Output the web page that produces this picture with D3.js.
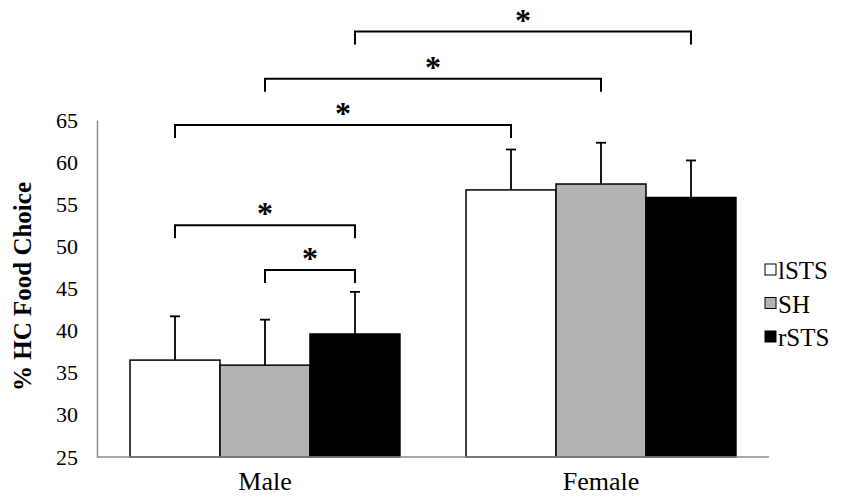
<!DOCTYPE html>
<html lang="en">
<head>
  <meta charset="UTF-8">
  <title>% HC Food Choice</title>
  <script src="https://d3js.org/d3.v7.min.js"></script>
  <style>
    body { margin: 0; background: #fff; }
    text { font-family: "Liberation Serif", "Times New Roman", serif; fill: #000; }
  </style>
</head>
<body>
  <svg id="chart" width="850" height="503"></svg>

  <script>
    // Data
    const groups = ["Male", "Female"];
    const series = ["lSTS", "SH", "rSTS"];
    const colors = ["#ffffff", "#b3b3b3", "#000000"];
    // means per series, in group order [Male, Female]
    const lSTS = [36.5, 56.7];
    const SH = [35.9, 57.4];
    const rSTS = [39.6, 55.8];
    const lSTSerr = [5.2, 4.8];
    const SHerr = [5.4, 4.9];
    const rSTSerr = [5.0, 4.4];
    const yTicks = [25, 30, 35, 40, 45, 50, 55, 60, 65];

    // significance brackets: [group index, series index] -> [group index, series index] at level
    const sigFrom = [[0, 0], [0, 1], [0, 0], [0, 1], [0, 2]];
    const sigTo = [[0, 2], [0, 2], [1, 0], [1, 1], [1, 2]];
    const sigLevel = [52.5, 47.2, 64.4, 69.9, 75.5];

    const means = [lSTS, SH, rSTS];
    const errs = [lSTSerr, SHerr, rSTSerr];

    const margin = { top: 120, right: 81, bottom: 46, left: 97 };
    const width = 850, height = 503;

    const svg = d3.select("#chart");

    const x0 = d3.scaleBand()
                 .domain(groups)
                 .range([margin.left, width - margin.right])
                 .padding(0);

    const x1 = d3.scaleBand()
                 .domain(series)
                 .range([0, x0.bandwidth()])
                 .paddingInner(0)
                 .paddingOuter(0.367);

    const y = d3.scaleLinear()
                .domain([25, 65])
                .range([height - margin.bottom, margin.top]);

    const barX = (g, s) => x0(groups[g]) + x1(series[s]);
    const barMid = (g, s) => barX(g, s) + x1.bandwidth() / 2;

    // Y axis (grey line, no tick marks)
    const yAxis = svg.append("g")
       .attr("transform", `translate(${margin.left},0)`)
       .attr("font-family", "Liberation Serif")
       .call(d3.axisLeft(y).tickValues(yTicks).tickSize(0).tickPadding(19));
    yAxis.attr("font-family", "Liberation Serif").attr("font-size", 22);
    yAxis.select(".domain").attr("stroke", "#8c8c8c").attr("stroke-width", 1.5);

    // bars
    const cells = [];
    series.forEach((s, si) => groups.forEach((g, gi) => {
      cells.push({ gi, si, v: means[si][gi], e: errs[si][gi] });
    }));

    svg.append("g").selectAll("rect")
       .data(cells)
       .enter().append("rect")
       .attr("x", d => barX(d.gi, d.si))
       .attr("y", d => y(d.v))
       .attr("width", x1.bandwidth())
       .attr("height", d => y(25) - y(d.v))
       .attr("fill", d => colors[d.si])
       .attr("stroke", "#000")
       .attr("stroke-width", 1.5);

    // error bars (upper only)
    const eb = svg.append("g").attr("stroke", "#000").attr("stroke-width", 1.8);
    eb.selectAll("line.stem")
      .data(cells)
      .enter().append("line")
      .attr("class", "stem")
      .attr("x1", d => barMid(d.gi, d.si))
      .attr("x2", d => barMid(d.gi, d.si))
      .attr("y1", d => y(d.v))
      .attr("y2", d => y(d.v + d.e));
    eb.selectAll("line.cap")
      .data(cells)
      .enter().append("line")
      .attr("class", "cap")
      .attr("x1", d => barMid(d.gi, d.si) - 5)
      .attr("x2", d => barMid(d.gi, d.si) + 5)
      .attr("y1", d => y(d.v + d.e))
      .attr("y2", d => y(d.v + d.e));

    // X axis (grey baseline) + group labels
    svg.append("line")
       .attr("x1", margin.left)
       .attr("x2", width - margin.right)
       .attr("y1", y(25))
       .attr("y2", y(25))
       .attr("stroke", "#8c8c8c")
       .attr("stroke-width", 1.5);

    svg.append("g").selectAll("text")
       .data(groups)
       .enter().append("text")
       .attr("x", d => x0(d) + x0.bandwidth() / 2)
       .attr("y", y(25) + 33)
       .attr("text-anchor", "middle")
       .style("font-size", "26px")
       .text(d => d);

    // significance brackets
    const legLen = 13;
    const br = svg.append("g");
    sigLevel.forEach((lv, i) => {
      const xa = barMid(sigFrom[i][0], sigFrom[i][1]);
      const xb = barMid(sigTo[i][0], sigTo[i][1]);
      const yy = y(lv);
      br.append("path")
        .attr("d", `M${xa},${yy + legLen}V${yy}H${xb}V${yy + legLen}`)
        .attr("fill", "none")
        .attr("stroke", "#000")
        .attr("stroke-width", 2);
      br.append("text")
        .attr("x", (xa + xb) / 2)
        .attr("y", yy - 1)
        .attr("text-anchor", "middle")
        .style("font-size", "32px")
        .style("font-weight", "bold")
        .text("*");
    });

    // Y axis title
    svg.append("text")
       .attr("transform", `translate(31,${(y(25) + y(65)) / 2 - 2}) rotate(-90)`)
       .attr("text-anchor", "middle")
       .style("font-size", "25px")
       .style("font-weight", "bold")
       .text("% HC Food Choice");

    // legend
    const lg = svg.append("g").selectAll("g")
       .data(series)
       .enter().append("g")
       .attr("transform", (d, i) => `translate(765,${270 + i * 33.5})`);
    lg.append("rect")
      .attr("x", 0)
      .attr("y", -6)
      .attr("width", 11)
      .attr("height", 11)
      .attr("fill", (d, i) => colors[i])
      .attr("stroke", "#000")
      .attr("stroke-width", 1);
    lg.append("text")
      .attr("x", 13)
      .attr("y", 9)
      .style("font-size", "25px")
      .text(d => d);
  </script>
</body>
</html>
